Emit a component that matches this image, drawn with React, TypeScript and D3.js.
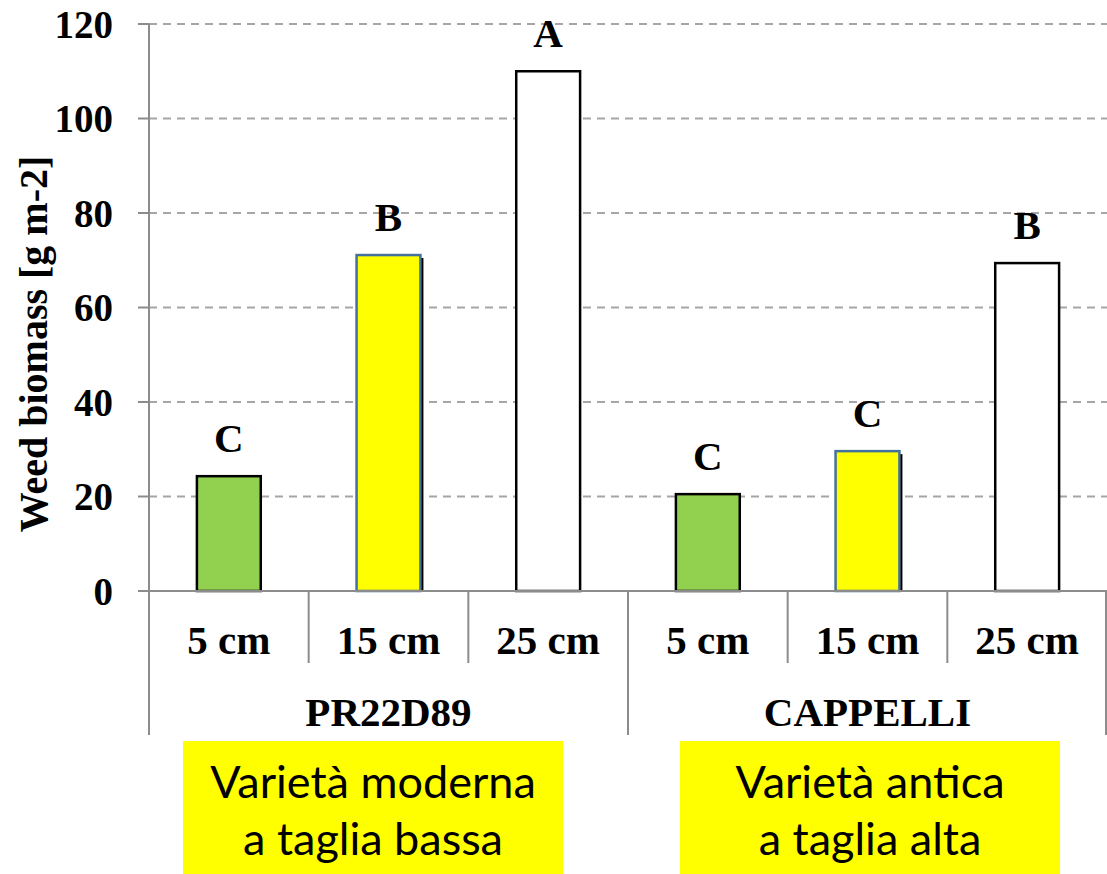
import React from "react";
import * as d3 from "d3";

const categories = ["5 cm", "15 cm", "25 cm", "5 cm", "15 cm", "25 cm"];
const varieties = ["PR22D89", "CAPPELLI"];
const values = [24.3, 71.1, 110.0, 20.5, 29.6, 69.4];
const letters = ["C", "B", "A", "C", "C", "B"];
const fills = ["#92d050", "#ffff00", "#ffffff", "#92d050", "#ffff00", "#ffffff"];
const strokes = ["#000000", "#41719c", "#000000", "#000000", "#41719c", "#000000"];
const yTicks = [0, 20, 40, 60, 80, 100, 120];
const notes = [["Varietà moderna", "a taglia bassa"], ["Varietà antica", "a taglia alta"]];

const W = 1107, H = 874;
const left = 149, right = 1107, top = 24, bottom = 591;

export default function App() {
  const x = d3.scaleBand<number>().domain(d3.range(categories.length)).range([left, right]).padding(0);
  const y = d3.scaleLinear().domain([0, 120]).range([bottom, top]);
  const bw = x.bandwidth();
  const barW = bw * 0.4;
  const serif = "Liberation Serif, Tinos, Times New Roman, Times, DejaVu Serif, serif";
  const groupW = bw * 3;
  const st = { fontFamily: serif, fontWeight: 700 } as React.CSSProperties;
  return (
    <svg width={W} height={H} style={{ position: "absolute", left: 0, top: 0, background: "#fff" }}>
      {yTicks.map((t) => (
        <g key={t}>
          {t > 0 && (
            <line x1={left} x2={right} y1={y(t)} y2={y(t)} stroke="#a6a6a6" strokeWidth={2} strokeDasharray="8,6" />
          )}
          <line x1={left - 11} x2={left} y1={y(t)} y2={y(t)} stroke="#8c8c8c" strokeWidth={2} />
          <text x={113} y={y(t)} dy="0.35em" textAnchor="end" style={st} fontSize={39}>{t}</text>
        </g>
      ))}
      {values.map((v, i) => {
        const cx = (x(i) as number) + bw / 2;
        return (
          <g key={i}>
            <rect x={cx - barW / 2} y={y(v)} width={barW} height={bottom - y(v)} fill={fills[i]} stroke={strokes[i]} strokeWidth={2.5} />
            {fills[i] === "#ffff00" && (
              <line x1={cx + barW / 2 + 2} x2={cx + barW / 2 + 2} y1={y(v) + 3} y2={bottom} stroke="#000" strokeWidth={2} />
            )}
            <text x={cx} y={y(v) - 24} textAnchor="middle" style={st} fontSize={41}>{letters[i]}</text>
            <text x={cx} y={640} dy="0.35em" textAnchor="middle" style={st} fontSize={41}>{categories[i]}</text>
          </g>
        );
      })}
      <line x1={left} x2={left} y1={top} y2={bottom} stroke="#8c8c8c" strokeWidth={2} />
      <line x1={left} x2={right} y1={bottom} y2={bottom} stroke="#8c8c8c" strokeWidth={2} />
      {d3.range(categories.length + 1).map((i) => {
        const xx = i < categories.length ? (x(i) as number) : right - 1;
        const long = i % 3 === 0;
        return <line key={i} x1={xx} x2={xx} y1={bottom} y2={long ? 735 : 663} stroke="#8c8c8c" strokeWidth={2} />;
      })}
      {varieties.map((v, g) => (
        <text key={v} x={left + groupW * g + groupW / 2} y={712} dy="0.35em" textAnchor="middle" style={st} fontSize={41}>{v}</text>
      ))}
      <text transform={`translate(33,344) rotate(-90)`} dy="0.35em" textAnchor="middle" style={st} fontSize={40}>Weed biomass [g m-2]</text>
      {notes.map((lines, g) => {
        const bx = g === 0 ? 183 : 680;
        return (
          <g key={g}>
            <rect x={bx} y={741} width={380} height={133} fill="#ffff00" />
            {lines.map((l, k) => (
              <text key={k} x={bx + 190} y={782 + k * 57} dy="0.35em" textAnchor="middle" style={{ fontFamily: "Lato, Open Sans, sans-serif" }} fontSize={45}>{l}</text>
            ))}
          </g>
        );
      })}
    </svg>
  );
}
